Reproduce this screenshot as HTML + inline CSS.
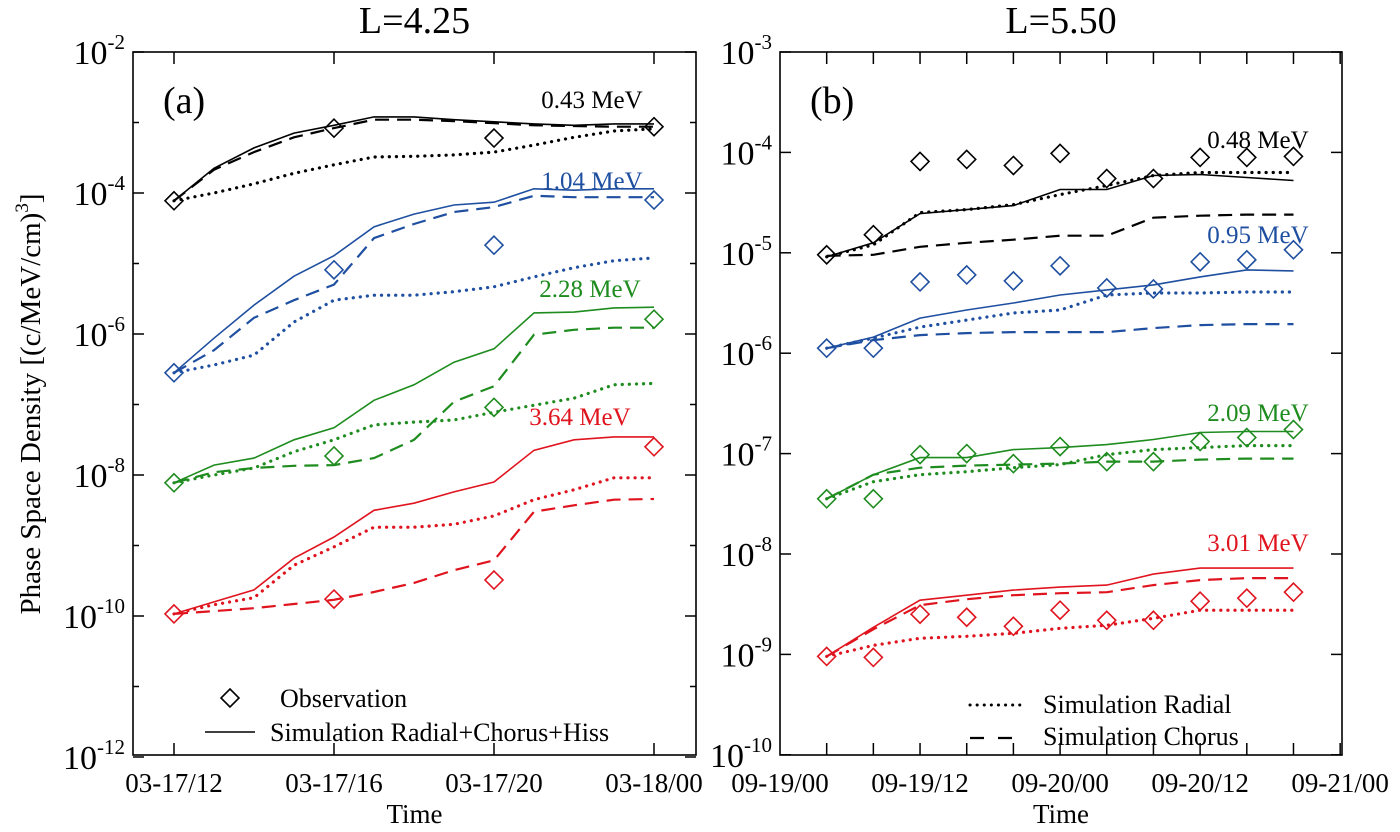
<!DOCTYPE html>
<html><head><meta charset="utf-8"><style>
body{margin:0;background:#fff;}
svg{display:block;font-family:"Liberation Serif",serif;}
</style></head><body>
<svg id="c" width="1400" height="832" viewBox="0 0 1400 832" xmlns="http://www.w3.org/2000/svg"></svg>
<script>
// ---- Panel (a) L=4.25 : log10 PSD, hours from 03-17/00 ----
const aLineHours=[12,13,14,15,16,17,18,19,20,21,22,23,24];
const aObsHours=[12,16,20,24];
const aBlackSolid=[-4.11,-3.65,-3.36,-3.15,-3.04,-2.92,-2.92,-2.96,-2.99,-3.02,-3.04,-3.02,-3.02];
const aBlackDashed=[-4.11,-3.67,-3.42,-3.21,-3.08,-2.96,-2.96,-2.98,-3.01,-3.04,-3.05,-3.06,-3.06];
const aBlackDotted=[-4.11,-4.00,-3.87,-3.72,-3.60,-3.49,-3.48,-3.46,-3.42,-3.32,-3.21,-3.12,-3.09];
const aBlackObs=[-4.11,-3.08,-3.22,-3.06];
const aBlueSolid=[-6.55,-6.06,-5.59,-5.18,-4.89,-4.48,-4.30,-4.17,-4.13,-3.94,-3.96,-3.94,-3.94];
const aBlueDashed=[-6.55,-6.23,-5.77,-5.52,-5.30,-4.64,-4.44,-4.27,-4.20,-4.04,-4.06,-4.06,-4.06];
const aBlueDotted=[-6.55,-6.44,-6.30,-5.83,-5.52,-5.45,-5.45,-5.40,-5.33,-5.19,-5.06,-4.96,-4.92];
const aBlueObs=[-6.55,-5.09,-4.74,-4.10];
const aGreenSolid=[-8.11,-7.86,-7.76,-7.50,-7.33,-6.94,-6.72,-6.40,-6.21,-5.70,-5.69,-5.63,-5.62];
const aGreenDashed=[-8.11,-7.96,-7.90,-7.87,-7.86,-7.76,-7.50,-6.96,-6.74,-6.01,-5.94,-5.91,-5.91];
const aGreenDotted=[-8.11,-8.00,-7.90,-7.67,-7.50,-7.29,-7.25,-7.22,-7.11,-7.01,-6.91,-6.72,-6.70];
const aGreenObs=[-8.11,-7.73,-7.04,-5.79];
const aRedSolid=[-9.97,-9.80,-9.63,-9.18,-8.88,-8.50,-8.40,-8.24,-8.10,-7.65,-7.50,-7.46,-7.46];
const aRedDashed=[-9.97,-9.93,-9.89,-9.83,-9.77,-9.66,-9.53,-9.35,-9.21,-8.52,-8.43,-8.35,-8.34];
const aRedDotted=[-9.97,-9.84,-9.74,-9.28,-9.02,-8.74,-8.74,-8.70,-8.58,-8.35,-8.21,-8.04,-8.04];
const aRedObs=[-9.97,-9.76,-9.49,-7.60];
const aXTickLabels=["03-17/12","03-17/16","03-17/20","03-18/00"];
const aXTickHours=[12,16,20,24];
// ---- Panel (b) L=5.50 : hours from 09-19/00 ----
const bHours=[4,8,12,16,20,24,28,32,36,40,44];
const bBlackSolid=[-5.04,-4.90,-4.61,-4.57,-4.53,-4.37,-4.37,-4.23,-4.22,-4.25,-4.28];
const bBlackDashed=[-5.03,-5.02,-4.94,-4.90,-4.87,-4.83,-4.83,-4.65,-4.63,-4.62,-4.62];
const bBlackDotted=[-5.04,-4.92,-4.60,-4.57,-4.52,-4.42,-4.33,-4.23,-4.20,-4.20,-4.20];
const bBlackObs=[-5.02,-4.82,-4.09,-4.07,-4.13,-4.01,-4.26,-4.26,-4.05,-4.05,-4.04];
const bBlueSolid=[-5.95,-5.84,-5.65,-5.57,-5.50,-5.42,-5.37,-5.32,-5.24,-5.17,-5.18];
const bBlueDashed=[-5.95,-5.87,-5.82,-5.80,-5.79,-5.79,-5.79,-5.75,-5.72,-5.71,-5.71];
const bBlueDotted=[-5.95,-5.85,-5.74,-5.67,-5.60,-5.57,-5.42,-5.40,-5.40,-5.39,-5.39];
const bBlueObs=[-5.95,-5.95,-5.29,-5.22,-5.28,-5.13,-5.35,-5.36,-5.09,-5.07,-4.97];
const bGreenSolid=[-7.45,-7.21,-7.04,-7.04,-6.96,-6.94,-6.91,-6.86,-6.79,-6.78,-6.78];
const bGreenDashed=[-7.45,-7.21,-7.14,-7.12,-7.11,-7.10,-7.08,-7.08,-7.06,-7.05,-7.05];
const bGreenDotted=[-7.45,-7.28,-7.21,-7.18,-7.14,-7.11,-7.01,-6.96,-6.94,-6.92,-6.92];
const bGreenObs=[-7.45,-7.45,-7.01,-7.00,-7.10,-6.93,-7.08,-7.08,-6.88,-6.84,-6.76];
const bRedSolid=[-9.02,-8.73,-8.46,-8.41,-8.36,-8.33,-8.31,-8.20,-8.14,-8.14,-8.14];
const bRedDashed=[-9.02,-8.75,-8.51,-8.45,-8.41,-8.39,-8.38,-8.31,-8.26,-8.24,-8.24];
const bRedDotted=[-9.02,-8.91,-8.84,-8.82,-8.79,-8.74,-8.71,-8.64,-8.56,-8.56,-8.56];
const bRedObs=[-9.02,-9.03,-8.60,-8.63,-8.72,-8.56,-8.66,-8.66,-8.47,-8.44,-8.38];
const bXTickLabels=["09-19/00","09-19/12","09-20/00","09-20/12","09-21/00"];
const bXTickHours=[0,12,24,36,48];

const NS="http://www.w3.org/2000/svg";
const svg=document.getElementById('c');
function mk(tag,attrs,parent,name){
  const e=document.createElementNS(NS,tag);
  for(const k in attrs)e.setAttribute(k,attrs[k]);
  
  
  (parent||svg).appendChild(e);return e;
}
const BLK='#000',BLU='#1f4fa0',GRN='#1e8c1e',RED='#e0141e';
const dashes={solid:'',dashed:'14 8',dotted:'0.1 7'};

function panel(cfg){
  const g=mk('g',{},svg,cfg.id);
  const X=h=>cfg.hx+(h-cfg.h0)*cfg.pxH;
  const Y=e=>cfg.y0+(cfg.eTop-e)*cfg.pxD;
  mk('rect',{x:cfg.x0,y:cfg.y0,width:cfg.x1-cfg.x0,height:cfg.y1-cfg.y0,fill:'none',stroke:'#000','stroke-width':1.6},g,'plot-frame');
  for(let e=cfg.eTop;e>=cfg.eBot;e--){
    const major=cfg.majorEvery===1||((cfg.eTop-e)%2===0);
    const len=major?11:6,y=Y(e);
    mk('line',{x1:cfg.x0,y1:y,x2:cfg.x0+len,y2:y,stroke:'#000','stroke-width':1.5},g,'y-tick');
    mk('line',{x1:cfg.x1,y1:y,x2:cfg.x1-len,y2:y,stroke:'#000','stroke-width':1.5},g,'y-tick');
    if(major){
      const t=mk('text',{x:cfg.x0-8,y:y+12,'text-anchor':'end','font-size':34},g,'y-tick-label');
      const a=document.createElementNS(NS,'tspan');a.textContent='10';t.appendChild(a);
      const b=document.createElementNS(NS,'tspan');b.setAttribute('font-size','21');b.setAttribute('dy','-15');b.textContent=String(e);t.appendChild(b);
    }
  }
  for(let h=cfg.tickStart;h<=cfg.tickEnd;h+=cfg.tickStep){
    const x=X(h);
    if(x<=cfg.x0+1||x>=cfg.x1-1)continue;
    mk('line',{x1:x,y1:cfg.y1,x2:x,y2:cfg.y1-12,stroke:'#000','stroke-width':1.5},g,'x-tick');
    mk('line',{x1:x,y1:cfg.y0,x2:x,y2:cfg.y0+12,stroke:'#000','stroke-width':1.5},g,'x-tick');
  }
  cfg.xLabels.forEach((l,i)=>{
    const t=mk('text',{x:X(cfg.xHours[i]),y:cfg.y1+37,'text-anchor':'middle','font-size':27},g,'x-tick-label');t.textContent=l;
  });
  const tt=mk('text',{x:(cfg.x0+cfg.x1)/2,y:cfg.y1+68,'text-anchor':'middle','font-size':27},g,'x-axis-title');tt.textContent='Time';
  const ti=mk('text',{x:(cfg.x0+cfg.x1)/2,y:33,'text-anchor':'middle','font-size':38},g,'panel-title');ti.textContent=cfg.title;
  const pl=mk('text',{x:cfg.x0+30,y:113,'font-size':38},g,'panel-label');pl.textContent=cfg.tag;
  cfg.series.forEach(s=>{
    ['solid','dashed','dotted'].forEach(st=>{
      const vals=s[st];
      const pts=vals.map((v,i)=>X(cfg.lineHours[i]).toFixed(1)+','+Y(v).toFixed(1)).join(' ');
      const a={points:pts,fill:'none',stroke:s.color,'stroke-width':st==='solid'?1.6:(st==='dotted'?3.2:2.2)};
      if(dashes[st])a['stroke-dasharray']=dashes[st];
      if(st==='dotted')a['stroke-linecap']='round';
      mk('polyline',a,g,s.name+'-'+st+'-line');
    });
    s.obs.forEach((v,i)=>{
      const x=X(cfg.obsHours[i]),y=Y(v),r=9;
      mk('polygon',{points:`${x},${y-r} ${x+r},${y} ${x},${y+r} ${x-r},${y}`,fill:'none',stroke:s.color,'stroke-width':1.6},g,s.name+'-observation');
    });
    const lt=mk('text',{x:s.lx,y:s.ly,'text-anchor':'middle','font-size':25,fill:s.color},g,s.name+'-energy-label');lt.textContent=s.label;
  });
  return g;
}

const ga=panel({id:'panel-a',title:'L=4.25',tag:'(a)',x0:133,x1:696,y0:52,y1:755,eTop:-2,eBot:-12,pxD:70.5,majorEvery:2,
  h0:12,hx:174,pxH:40,tickStart:12,tickEnd:24,tickStep:4,xLabels:aXTickLabels,xHours:aXTickHours,
  lineHours:aLineHours,obsHours:aObsHours,
  series:[
    {name:'e043',color:BLK,solid:aBlackSolid,dashed:aBlackDashed,dotted:aBlackDotted,obs:aBlackObs,label:'0.43 MeV',lx:592,ly:108},
    {name:'e104',color:BLU,solid:aBlueSolid,dashed:aBlueDashed,dotted:aBlueDotted,obs:aBlueObs,label:'1.04 MeV',lx:592,ly:189},
    {name:'e228',color:GRN,solid:aGreenSolid,dashed:aGreenDashed,dotted:aGreenDotted,obs:aGreenObs,label:'2.28 MeV',lx:590,ly:297},
    {name:'e364',color:RED,solid:aRedSolid,dashed:aRedDashed,dotted:aRedDotted,obs:aRedObs,label:'3.64 MeV',lx:580,ly:425}
  ]});
const gb=panel({id:'panel-b',title:'L=5.50',tag:'(b)',x0:780,x1:1342,y0:52,y1:755,eTop:-3,eBot:-10,pxD:100.4,majorEvery:1,
  h0:0,hx:780,pxH:11.67,tickStart:0,tickEnd:48,tickStep:4,xLabels:bXTickLabels,xHours:bXTickHours,
  lineHours:bHours,obsHours:bHours,
  series:[
    {name:'e048',color:BLK,solid:bBlackSolid,dashed:bBlackDashed,dotted:bBlackDotted,obs:bBlackObs,label:'0.48 MeV',lx:1258,ly:148},
    {name:'e095',color:BLU,solid:bBlueSolid,dashed:bBlueDashed,dotted:bBlueDotted,obs:bBlueObs,label:'0.95 MeV',lx:1258,ly:243},
    {name:'e209',color:GRN,solid:bGreenSolid,dashed:bGreenDashed,dotted:bGreenDotted,obs:bGreenObs,label:'2.09 MeV',lx:1258,ly:421},
    {name:'e301',color:RED,solid:bRedSolid,dashed:bRedDashed,dotted:bRedDotted,obs:bRedObs,label:'3.01 MeV',lx:1258,ly:551}
  ]});

const yt=mk('text',{x:0,y:0,'text-anchor':'middle','font-size':29,transform:'translate(40,404) rotate(-90)'},svg,'y-axis-title');
yt.textContent='Phase Space Density [(c/MeV/cm)';
const ys=document.createElementNS(NS,'tspan');ys.setAttribute('font-size','19');ys.setAttribute('dy','-12');ys.textContent='3';yt.appendChild(ys);
const ye=document.createElementNS(NS,'tspan');ye.setAttribute('dy','12');ye.textContent=']';yt.appendChild(ye);

const lg1=mk('g',{},ga,'legend-left');
const d=9;
mk('polygon',{points:`230,${698-d} ${230+d},698 230,${698+d} ${230-d},698`,fill:'none',stroke:'#000','stroke-width':1.6},lg1,'legend-observation-symbol');
const t1=mk('text',{x:280,y:707,'font-size':26},lg1,'legend-observation-label');t1.textContent='Observation';
mk('line',{x1:205,y1:732,x2:255,y2:732,stroke:'#000','stroke-width':1.6},lg1,'legend-full-sim-line');
const t2=mk('text',{x:270,y:741,'font-size':26},lg1,'legend-full-sim-label');t2.textContent='Simulation Radial+Chorus+Hiss';
const lg2=mk('g',{},gb,'legend-right');
mk('line',{x1:970,y1:705,x2:1020,y2:705,stroke:'#000','stroke-width':3,'stroke-dasharray':'0.1 7','stroke-linecap':'round'},lg2,'legend-radial-line');
const t3=mk('text',{x:1043,y:713,'font-size':26},lg2,'legend-radial-label');t3.textContent='Simulation Radial';
mk('line',{x1:970,y1:738,x2:1012,y2:738,stroke:'#000','stroke-width':2.2,'stroke-dasharray':'14 14'},lg2,'legend-chorus-line');
const t4=mk('text',{x:1043,y:745,'font-size':26},lg2,'legend-chorus-label');t4.textContent='Simulation Chorus';
</script>
</body></html>
